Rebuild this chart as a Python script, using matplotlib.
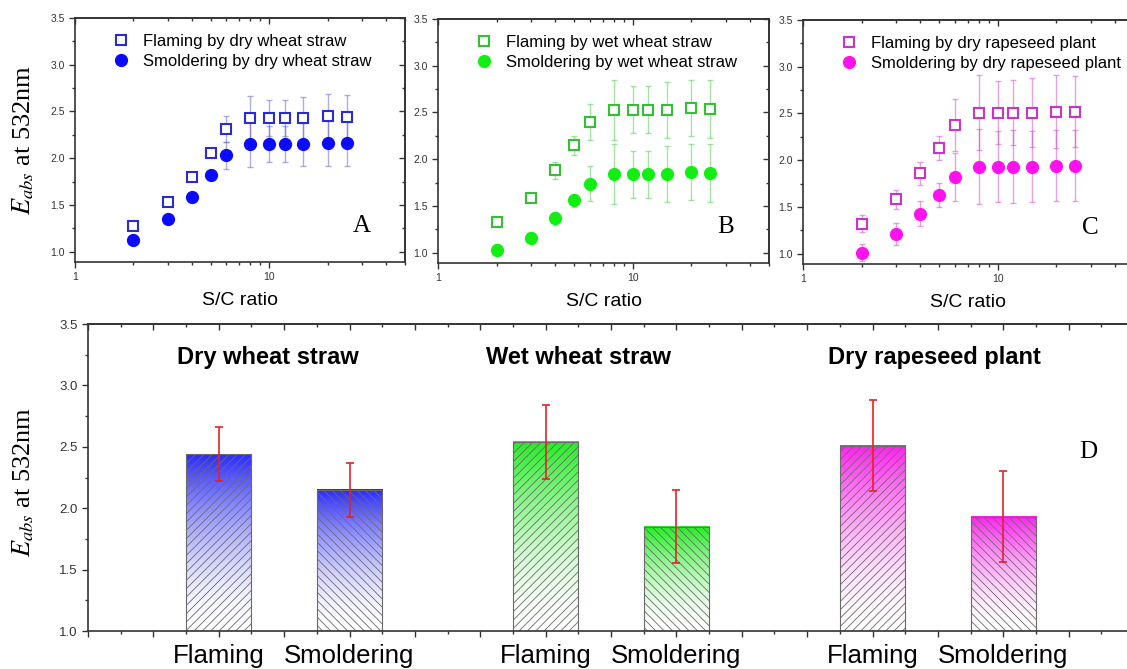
import numpy as np
import matplotlib
matplotlib.use('Agg')
import matplotlib.pyplot as plt
from matplotlib.ticker import MultipleLocator, NullFormatter, LogLocator, FixedLocator
from matplotlib.colors import to_rgb

plt.rcParams['font.family'] = ['Liberation Sans', 'DejaVu Sans']
plt.rcParams['mathtext.fontset'] = 'stix'
plt.rcParams['hatch.linewidth'] = 0.6

# S/C ratio panels (A, B, C)
sc_ratio = [2, 3, 4, 5, 6, 8, 10, 12, 15, 20, 25]

dry_flaming = [1.27, 1.53, 1.80, 2.06, 2.31, 2.43, 2.43, 2.43, 2.43, 2.45, 2.44]
dry_flaming_err = [0.03, 0.03, 0.03, 0.04, 0.14, 0.24, 0.19, 0.19, 0.23, 0.24, 0.24]
dry_smold = [1.13, 1.35, 1.59, 1.82, 2.03, 2.15, 2.15, 2.15, 2.15, 2.16, 2.16]
dry_smold_err = [0.03, 0.03, 0.04, 0.05, 0.14, 0.24, 0.19, 0.19, 0.23, 0.24, 0.24]

wet_flaming = [1.33, 1.59, 1.88, 2.15, 2.40, 2.53, 2.53, 2.53, 2.53, 2.55, 2.54]
wet_flaming_err = [0.04, 0.05, 0.09, 0.10, 0.19, 0.32, 0.25, 0.25, 0.30, 0.30, 0.31]
wet_smold = [1.03, 1.16, 1.37, 1.56, 1.74, 1.84, 1.84, 1.84, 1.84, 1.86, 1.85]
wet_smold_err = [0.06, 0.06, 0.07, 0.07, 0.19, 0.32, 0.25, 0.25, 0.30, 0.30, 0.31]

rape_flaming = [1.32, 1.58, 1.86, 2.13, 2.38, 2.51, 2.51, 2.51, 2.51, 2.52, 2.52]
rape_flaming_err = [0.09, 0.10, 0.12, 0.13, 0.28, 0.40, 0.34, 0.35, 0.37, 0.39, 0.38]
rape_smold = [1.01, 1.21, 1.43, 1.63, 1.82, 1.93, 1.93, 1.93, 1.93, 1.94, 1.94]
rape_smold_err = [0.09, 0.12, 0.13, 0.13, 0.26, 0.40, 0.38, 0.39, 0.38, 0.38, 0.38]

# bar panel (D)
bar_pos = [4, 8, 14, 18, 24, 28]
bar_vals = [2.44, 2.15, 2.54, 1.85, 2.51, 1.93]
bar_err = [0.22, 0.22, 0.30, 0.30, 0.37, 0.37]
bar_labels = ['Flaming', 'Smoldering', 'Flaming', 'Smoldering', 'Flaming', 'Smoldering']
group_titles = ['Dry wheat straw', 'Wet wheat straw', 'Dry rapeseed plant']
group_title_x = [5.5, 15.0, 25.9]

W, H = 1127, 669
fig = plt.figure(figsize=(W / 100, H / 100), dpi=100)

spine_col = '#333333'
tick_col = '#333333'


def px_axes(l, t, r, b):
    return fig.add_axes([l / W, 1 - b / H, (r - l) / W, (b - t) / H])


def mirror_ticks(ax, logx=False, lblsize=7):
    # left/bottom ticks point out, top/right ticks point in
    ax.tick_params(which='both', direction='out', top=False, right=False, colors=tick_col,
                   labelsize=lblsize, width=1.0)
    ax.tick_params(which='major', length=4)
    ax.tick_params(which='minor', length=2.5)
    sx = ax.secondary_xaxis('top')
    sy = ax.secondary_yaxis('right')
    for s in (sx, sy):
        s.tick_params(which='both', direction='in', colors=tick_col, width=1.0)
        s.tick_params(which='major', length=4)
        s.tick_params(which='minor', length=2.5)
    sx.xaxis.set_major_formatter(NullFormatter())
    sx.xaxis.set_minor_formatter(NullFormatter())
    sy.yaxis.set_major_formatter(NullFormatter())
    sy.yaxis.set_minor_formatter(NullFormatter())
    if not logx:
        sx.xaxis.set_major_locator(FixedLocator(ax.get_xticks()))
        sx.xaxis.set_minor_locator(MultipleLocator(1))
    sy.yaxis.set_major_locator(MultipleLocator(0.5))
    sy.yaxis.set_minor_locator(MultipleLocator(0.25))
    for s in list(ax.spines.values()) + list(sx.spines.values()) + list(sy.spines.values()):
        s.set_color(spine_col)
        s.set_linewidth(1.2)


panels = [
    ((75, 18, 405, 262), 'dry wheat straw', dry_flaming, dry_flaming_err, dry_smold, dry_smold_err,
     '#0a0aff', '#2a2ad8', '#6a6ad8', 'A'),
    ((438, 19, 769, 263), 'wet wheat straw', wet_flaming, wet_flaming_err, wet_smold, wet_smold_err,
     '#11ee11', '#33c033', '#55d055', 'B'),
    ((803, 20, 1134, 264), 'dry rapeseed plant', rape_flaming, rape_flaming_err, rape_smold, rape_smold_err,
     '#ff11ee', '#cc33cc', '#d055c8', 'C'),
]

for box, name, fl, fle, sm, sme, col, sqcol, errcol, tag in panels:
    ax = px_axes(*box)
    ax.set_xscale('log')
    ax.errorbar(sc_ratio, fl, yerr=fle, fmt='none', ecolor=errcol, elinewidth=1.0,
                capsize=2.5, capthick=1.0, alpha=0.55, zorder=2)
    ax.errorbar(sc_ratio, sm, yerr=sme, fmt='none', ecolor=errcol, elinewidth=1.0,
                capsize=2.5, capthick=1.0, alpha=0.55, zorder=2)
    ax.plot(sc_ratio, fl, 's', ms=7.5, mfc='white', mec=sqcol, mew=1.5,
            ls='none', zorder=3, label='Flaming by ' + name)
    ax.plot(sc_ratio, sm, 'o', ms=8.5, mfc=col, mec=col, ls='none',
            zorder=3, label='Smoldering by ' + name)
    ax.set_xlim(1, 50)
    ax.set_ylim(0.89, 3.5)
    ax.yaxis.set_major_locator(MultipleLocator(0.5))
    ax.yaxis.set_minor_locator(MultipleLocator(0.25))
    ax.yaxis.set_major_formatter(plt.FormatStrFormatter('%.1f'))
    ax.xaxis.set_major_locator(FixedLocator([1, 10]))
    ax.xaxis.set_major_formatter(plt.FuncFormatter(lambda v, p: '%d' % v))
    ax.xaxis.set_minor_locator(LogLocator(base=10, subs=np.arange(2, 10)))
    ax.xaxis.set_minor_formatter(NullFormatter())
    mirror_ticks(ax, logx=True, lblsize=7.5)
    ax.legend(loc='upper left', bbox_to_anchor=(0.085, 0.975), frameon=False, fontsize=12,
              handlelength=1.0, handletextpad=0.8, labelspacing=0.3, borderaxespad=0.2)
    ax.text(30, 1.27, tag, fontsize=18, family='Liberation Serif', ha='center', va='center')
    ax.text(0.5, -0.156, 'S/C ratio', transform=ax.transAxes, fontsize=14,
            ha='center', va='center')

fig.text(23 / W, 1 - 140 / H, r'$E_{abs}$ at 532nm', rotation=90, fontsize=19,
         family='Liberation Serif', ha='center', va='center')

# panel D
axd = px_axes(88, 324, 1134, 631)
bar_colors = ['#2a2aff', '#2a2aff', '#22ee22', '#22ee22', '#ff22ee', '#ff22ee']
hatches = ['////', '\\\\\\\\', '////', '\\\\\\\\', '////', '\\\\\\\\']
bw = 2.0
for x, v, c in zip(bar_pos, bar_vals, bar_colors):
    t = np.linspace(0, 1, 256) ** 1.7
    rgb = np.array(to_rgb(c))
    grad = (1 - t[:, None]) * np.array([1.0, 1.0, 1.0]) + t[:, None] * rgb
    grad = grad[:, None, :]
    axd.imshow(grad, extent=(x - bw / 2, x + bw / 2, 1.0, v), origin='lower',
               aspect='auto', interpolation='bilinear', zorder=1)
for x, v, h in zip(bar_pos, bar_vals, hatches):
    axd.bar(x, v - 1.0, bottom=1.0, width=bw, facecolor='none', edgecolor='#6a6a6a',
            hatch=h, linewidth=0.8, zorder=2)
axd.errorbar(bar_pos, bar_vals, yerr=bar_err, fmt='none', ecolor='#e8202a',
             elinewidth=1.2, capsize=3, capthick=1.2, zorder=4)
axd.set_xlim(0, 32)
axd.set_ylim(1.0, 3.5)
major_x = list(range(0, 33, 2))
axd.set_xticks(major_x)
axd.set_xticklabels([bar_labels[bar_pos.index(m)] if m in bar_pos else '' for m in major_x],
                    fontsize=18.5)
axd.xaxis.set_minor_locator(MultipleLocator(1))
axd.yaxis.set_major_locator(MultipleLocator(0.5))
axd.yaxis.set_minor_locator(MultipleLocator(0.25))
axd.yaxis.set_major_formatter(plt.FormatStrFormatter('%.1f'))
mirror_ticks(axd, logx=False, lblsize=9.5)
axd.tick_params(axis='x', which='major', labelsize=18.5, labelcolor='black', pad=5)
for gx, gt in zip(group_title_x, group_titles):
    axd.text(gx, 3.23, gt, fontsize=17, fontweight='bold', ha='center', va='center')
axd.text(30.6, 2.46, 'D', fontsize=18, family='Liberation Serif', ha='center', va='center')

fig.text(23 / W, 1 - 482 / H, r'$E_{abs}$ at 532nm', rotation=90, fontsize=19,
         family='Liberation Serif', ha='center', va='center')

fig.savefig('out.png', dpi=100)
